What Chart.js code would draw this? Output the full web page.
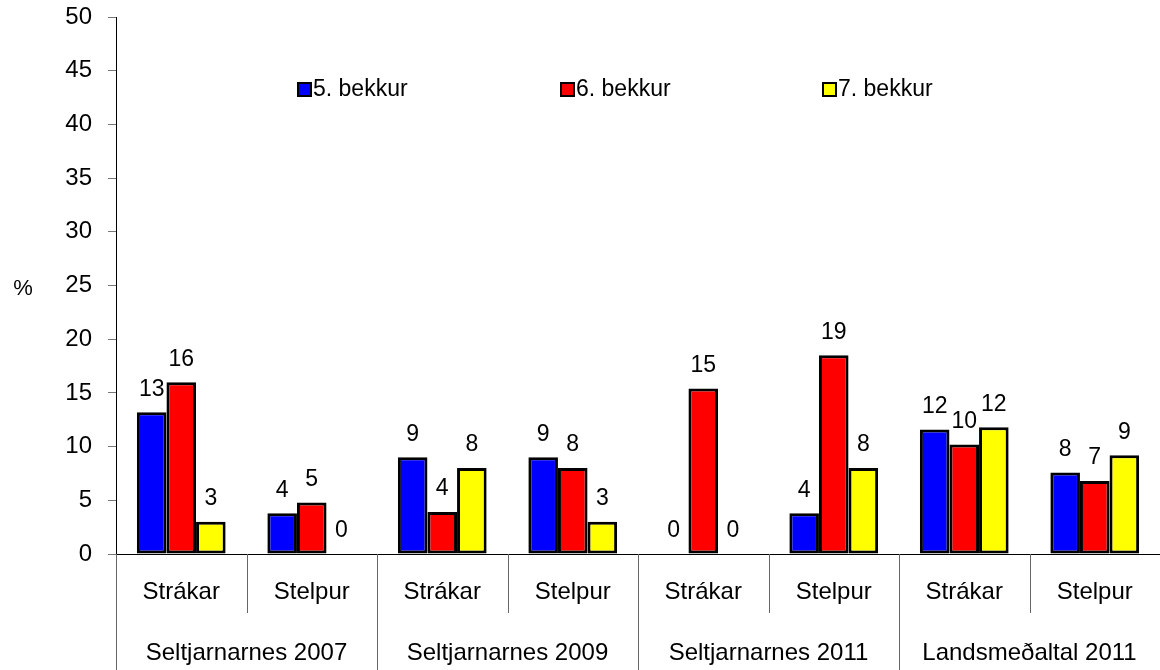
<!DOCTYPE html>
<html>
<head>
<meta charset="utf-8">
<title>Bekkir</title>
<script src="https://cdn.jsdelivr.net/npm/chart.js@4.4.1/dist/chart.umd.min.js"></script>
<style>
    body { margin: 0; background: #fff; }
    #bekkur-chart { display: block; }
</style>
</head>
<body>
<canvas id="bekkur-chart" width="1160" height="670"></canvas>
<script>
// gögn
const hopar = ["Seltjarnarnes 2007", "Seltjarnarnes 2009", "Seltjarnarnes 2011", "Landsmeðaltal 2011"];
const kyn = ["Strákar", "Stelpur"];
const bekkur5 = [13.2, 3.8, 9.0, 9.0, 0, 3.8, 11.6, 7.6];
const bekkur6 = [16.0, 4.8, 3.9, 8.0, 15.4, 18.5, 10.2, 6.8];
const bekkur7 = [3.0, 0, 8.0, 3.0, 0, 8.0, 11.8, 9.2];
const yTicks = [0, 5, 10, 15, 20, 25, 30, 35, 40, 45, 50];

const FONT = "'Liberation Sans', Arial, sans-serif";

document.addEventListener("DOMContentLoaded", function () {
    // flokkar: Strákar/Stelpur fyrir hvern hóp
    const labels = [];
    hopar.forEach(() => kyn.forEach((k) => labels.push(k)));

    const legendItems = [
        { text: "5. bekkur", color: "#0000ff", x: 298 },
        { text: "6. bekkur", color: "#ff0000", x: 561 },
        { text: "7. bekkur", color: "#ffff00", x: 823 },
    ];

    // tölur ofan á súlum
    const valueLabels = {
        id: "valueLabels",
        afterDatasetsDraw(chart) {
            const ctx = chart.ctx;
            ctx.save();
            ctx.font = "23px " + FONT;
            ctx.fillStyle = "#000";
            ctx.textAlign = "center";
            ctx.textBaseline = "middle";
            chart.data.datasets.forEach((ds, i) => {
                chart.getDatasetMeta(i).data.forEach((bar, j) => {
                    ctx.fillText(String(Math.round(ds.data[j])), bar.x, bar.y - 23);
                });
            });
            ctx.restore();
        },
    };

    // skiptilínur og hópaheiti undir x-ás, % og skýringar
    const extras = {
        id: "extras",
        afterDraw(chart) {
            const ctx = chart.ctx;
            const x = chart.scales.x;
            const bottom = chart.chartArea.bottom;
            ctx.save();
            ctx.strokeStyle = "#666";
            ctx.lineWidth = 1;
            for (let i = 0; i < labels.length; i++) {
                const px = Math.round(x.getPixelForValue(i - 0.5)) + 0.5;
                const end = i % 2 === 0 ? chart.height : bottom + 59;
                ctx.beginPath();
                ctx.moveTo(px, bottom);
                ctx.lineTo(px, end);
                ctx.stroke();
            }

            ctx.fillStyle = "#000";
            ctx.font = "24px " + FONT;
            ctx.textAlign = "center";
            ctx.textBaseline = "middle";
            hopar.forEach((h, g) => {
                ctx.fillText(h, x.getPixelForValue(g * 2 + 0.5), 653);
            });

            ctx.font = "22px " + FONT;
            ctx.fillText("%", 23, 289);

            // skýringar
            ctx.textAlign = "left";
            ctx.font = "23px " + FONT;
            legendItems.forEach((item) => {
                ctx.fillStyle = item.color;
                ctx.fillRect(item.x, 83, 13, 13);
                ctx.strokeStyle = "#000";
                ctx.lineWidth = 2;
                ctx.strokeRect(item.x, 83, 13, 13);
                ctx.fillStyle = "#000";
                ctx.fillText(item.text, item.x + 15, 90);
            });
            ctx.restore();
        },
    };

    const dsStyle = (color) => ({
        backgroundColor: color,
        borderColor: "#000",
        borderWidth: (c) => (c.raw === 0 ? 0 : 3),
        borderSkipped: false,
        categoryPercentage: 0.68,
        barPercentage: 1.0,
    });

    const ctx = document.getElementById("bekkur-chart").getContext("2d");
    new Chart(ctx, {
        type: "bar",
        data: {
            labels: labels,
            datasets: [
                Object.assign({ label: legendItems[0].text, data: bekkur5 }, dsStyle("#0000ff")),
                Object.assign({ label: legendItems[1].text, data: bekkur6 }, dsStyle("#ff0000")),
                Object.assign({ label: legendItems[2].text, data: bekkur7 }, dsStyle("#ffff00")),
            ],
        },
        options: {
            responsive: false,
            animation: false,
            devicePixelRatio: 1,
            layout: { padding: { top: 17, right: 0, left: 0, bottom: 0 } },
            plugins: {
                legend: { display: false },
                tooltip: { enabled: false },
            },
            scales: {
                x: {
                    offset: true,
                    grid: { display: false, drawTicks: false },
                    border: { display: true, color: "#000", width: 1 },
                    ticks: {
                        color: "#000",
                        font: { family: FONT, size: 24 },
                        padding: 24,
                        maxRotation: 0,
                        autoSkip: false,
                    },
                    afterFit(scale) {
                        scale.height = 116;
                        scale.paddingLeft = 0;
                        scale.paddingRight = 0;
                    },
                },
                y: {
                    min: 0,
                    max: 50,
                    afterBuildTicks(scale) {
                        scale.ticks = yTicks.map((v) => ({ value: v }));
                    },
                    grid: {
                        drawOnChartArea: false,
                        drawTicks: true,
                        tickLength: 8,
                        color: "#777",
                    },
                    border: { display: true, color: "#000", width: 1 },
                    ticks: {
                        color: "#000",
                        font: { family: FONT, size: 24 },
                        padding: 16,
                    },
                    afterFit(scale) {
                        scale.width = 116;
                        scale.paddingTop = 0;
                        scale.paddingBottom = 0;
                    },
                },
            },
        },
        plugins: [valueLabels, extras],
    });
});
</script>
</body>
</html>
